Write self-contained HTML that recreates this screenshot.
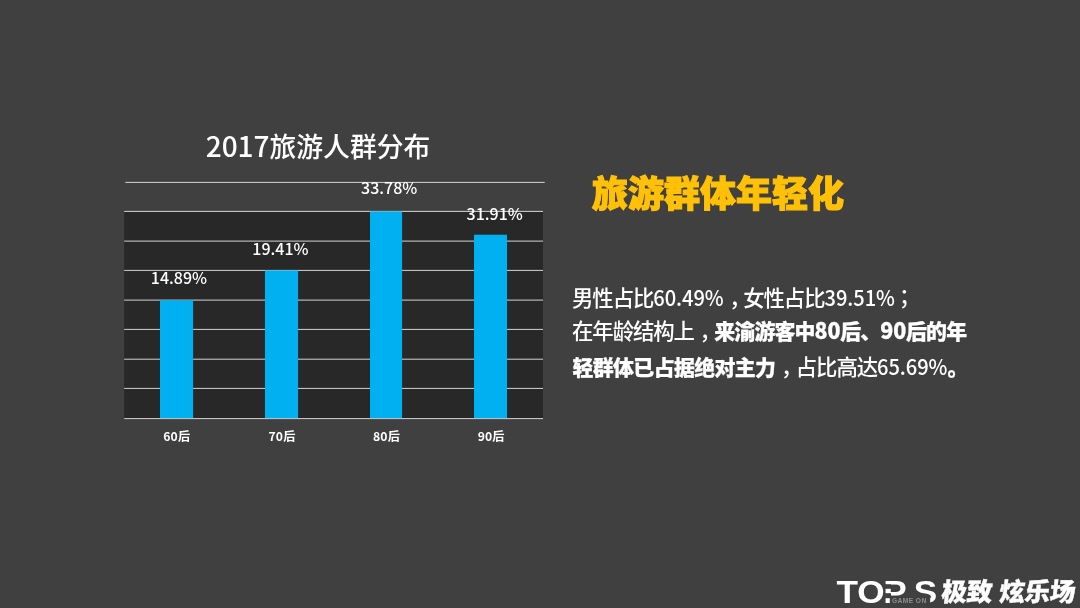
<!DOCTYPE html>
<html lang="zh-CN">
<head>
<meta charset="utf-8">
<title>2017旅游人群分布</title>
<style>
html,body{margin:0;padding:0;}
body{width:1080px;height:608px;overflow:hidden;background:#404040;position:relative;
  font-family:"Liberation Sans","Noto Sans CJK SC",sans-serif;color:#fff;}
.abs{position:absolute;white-space:nowrap;}
.dl{font-family:"Noto Sans CJK SC",sans-serif;font-weight:500;font-size:16px;line-height:20px;width:100px;text-align:center;}
.ax{font-family:"Noto Sans CJK SC",sans-serif;font-size:12.2px;font-weight:700;line-height:16px;width:100px;text-align:center;letter-spacing:.15px;}
#title{font-family:"Noto Sans CJK SC",sans-serif;font-weight:500;font-size:26.8px;line-height:36px;left:118px;width:400px;text-align:center;top:126.8px;}
#head{font-family:"Noto Sans CJK SC",sans-serif;font-weight:900;font-size:36px;line-height:44px;color:#ffc107;left:592px;top:168.6px;-webkit-text-stroke:1.1px #ffc107;}
.body{font-family:"Noto Sans CJK SC",sans-serif;font-weight:500;font-size:21.4px;letter-spacing:-1.07px;line-height:34px;left:573px;}
.body .n{font-size:20.1px;letter-spacing:-.05px;display:inline-block;line-height:1;transform:scaleY(1.055);transform-origin:50% 85%;}
.body b{font-weight:900;font-size:20.9px;letter-spacing:-.6px;-webkit-text-stroke:.25px #fff;}
.body b .n{font-size:21.4px;letter-spacing:0;}
.body .p{position:relative;left:5.5px;}
#logo{left:0;top:0;}
#tops{font-family:"Liberation Sans",sans-serif;font-weight:700;font-size:32px;fill:#fff;}
#gameon{font-family:"Liberation Sans",sans-serif;font-weight:700;font-size:6.6px;fill:#8e8e8e;letter-spacing:.45px;}
#slogan{font-family:"Noto Sans CJK SC",sans-serif;font-weight:900;font-size:25.6px;line-height:30px;left:940.6px;top:574.8px;transform:skewX(-6deg);transform-origin:0 80%;letter-spacing:-.4px;-webkit-text-stroke:.4px #fff;}
</style>
</head>
<body>
<div class="abs" id="title"><span style="font-size:28px;position:relative;top:-.3px">2017</span>旅游人群分布</div>

<svg class="abs" id="chart" style="left:0;top:0" width="1080" height="608" viewBox="0 0 1080 608">
<rect x="124.2" y="211.4" width="418.8" height="207.2" fill="#282828"/>
<g stroke="#d4d4d4" stroke-width="1" fill="none">
<line x1="125.3" x2="544.7" y1="182.4" y2="182.4"/>
<line x1="124.2" x2="543" y1="211.4" y2="211.4"/>
<line x1="124.2" x2="543" y1="241.1" y2="241.1"/>
<line x1="124.2" x2="543" y1="270.4" y2="270.4"/>
<line x1="124.2" x2="543" y1="300.1" y2="300.1"/>
<line x1="124.2" x2="543" y1="329.4" y2="329.4"/>
<line x1="124.2" x2="543" y1="359.2" y2="359.2"/>
<line x1="124.2" x2="543" y1="388.4" y2="388.4"/>
<line x1="124.2" x2="543" y1="418.6" y2="418.6"/>
</g>
<g fill="#00b0f0">
<rect x="160" y="300.3" width="33.1" height="117.8"/>
<rect x="265" y="270.5" width="33.1" height="147.6"/>
<rect x="370" y="211.5" width="32.1" height="206.6"/>
<rect x="474" y="234.7" width="33" height="183.4"/>
</g>
</svg>
<div class="abs dl" style="left:129px;top:267px">14.89%</div>
<div class="abs dl" style="left:230.5px;top:238px">19.41%</div>
<div class="abs dl" style="left:339.2px;top:176.8px">33.78%</div>
<div class="abs dl" style="left:444.7px;top:202.7px">31.91%</div>

<div class="abs ax" style="left:126.8px;top:427.6px">60后</div>
<div class="abs ax" style="left:232px;top:427.6px">70后</div>
<div class="abs ax" style="left:336.5px;top:427.6px">80后</div>
<div class="abs ax" style="left:441.2px;top:427.6px">90后</div>

<div class="abs" id="head">旅游群体年轻化</div>

<div class="abs body" style="top:280px;left:572px">男性占比<span class="n">60.49%</span><span class="p" style="margin-right:-.8px">，</span>女性占比<span class="n">39.51%</span><span class="p" style="left:4px;top:-2px">；</span></div>
<div class="abs body" style="top:312.6px;left:572px">在年龄结构上<span class="p">，</span><b style="letter-spacing:-.83px">来渝游客中<span class="n" style="letter-spacing:-.2px">80</span>后、<span class="n" style="letter-spacing:-.2px">90</span>后的年</b></div>
<div class="abs body" style="top:348.6px;left:572.5px"><b>轻群体已占据绝对主力</b><span class="p">，</span>占比高达<span class="n">65.69%</span><b>。</b></div>

<svg class="abs" id="logo" width="1080" height="608" viewBox="0 0 1080 608">
<g transform="scale(1.1,1)"><text id="tops" x="760.4 779.4 802.9 830.6" y="602.6">TOPS</text></g>
<rect x="884" y="593.2" width="7" height="5" fill="#404040"/>
<rect x="884" y="584.2" width="7" height="4.6" fill="#404040"/>
<rect x="889.8" y="597.6" width="40.4" height="7" fill="#404040"/>
<rect x="912" y="594" width="10" height="4" fill="#404040"/>
<text id="gameon" x="892" y="603.1">GAME ON</text>
</svg>
<div class="abs" id="slogan">极致<span style="margin-left:7.4px">炫乐场</span></div>

</body>
</html>
